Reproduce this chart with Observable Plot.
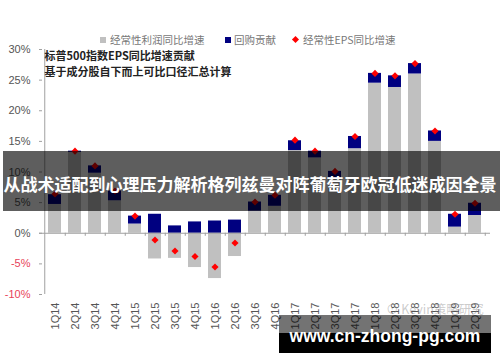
<!DOCTYPE html>
<html>
<head>
<meta charset="utf-8">
<script src="https://cdn.jsdelivr.net/npm/d3@7"></script>
<script src="https://cdn.jsdelivr.net/npm/@observablehq/plot@0.6"></script>
<style>
  html, body { margin: 0; padding: 0; background: #fff; }
  #wrap { position: relative; width: 500px; height: 362px; overflow: hidden; font-family: "Liberation Sans", "Noto Sans CJK SC", sans-serif; }
  #chart { position: absolute; left: 0; top: 0; }
  .leg { position: absolute; top: 33px; font-family: "Noto Sans CJK SC", sans-serif; font-size: 10.5px; color: #777; line-height: 14px; white-space: nowrap; }
  .sw { position: absolute; top: 37px; width: 6px; height: 6px; }
  #banner { position: absolute; left: 3px; top: 151px; width: 497px; height: 60px; background: rgba(0,0,0,0.63); }
  #bannerText { position: absolute; left: 0px; top: 174px; width: 500px; text-align: center; color: #fff; font-family: "Noto Sans CJK SC", sans-serif; font-weight: 700; font-size: 17px; line-height: 20px; white-space: nowrap; }
  #wmGray { position: absolute; left: 279px; top: 315px; width: 212px; height: 18px; background: rgba(0,0,0,0.55); }
  #wmBlack { position: absolute; left: 279px; top: 333px; width: 212px; height: 20px; background: #000; }
  #wmText { position: absolute; left: 279px; top: 326px; width: 212px; text-align: center; color: #fff; font-family: "Liberation Sans", sans-serif; font-weight: 700; font-size: 17.5px; line-height: 20px; white-space: nowrap; }
  #kevin { position: absolute; left: 386px; top: 302px; color: rgba(140,140,140,0.45); font-family: "Noto Sans CJK SC", sans-serif; font-size: 12.5px; line-height: 14px; white-space: nowrap; }
</style>
</head>
<body>
<div id="wrap">
  <div id="chart"></div>
  <div class="sw" style="left:100px;background:#c0c0c0"></div>
  <div class="leg" style="left:110px">经常性利润同比增速</div>
  <div class="sw" style="left:225px;background:#000080"></div>
  <div class="leg" style="left:234px">回购贡献</div>
  <div class="sw" style="left:293px;top:37px;width:5px;height:5px;background:#f00;transform:rotate(45deg)"></div>
  <div class="leg" style="left:303px">经常性EPS同比增速</div>
  <div id="kevin">⊙ Kevin策略研究</div>
  <div id="banner"></div>
  <div id="bannerText">从战术适配到心理压力解析格列兹曼对阵葡萄牙欧冠低迷成因全景</div>
  <div id="wmGray"></div>
  <div id="wmBlack"></div>
  <div id="wmText">www.cn-zhong-pg.com</div>
</div>
<script>
const quarters = ["1Q14","2Q14","3Q14","4Q14","1Q15","2Q15","3Q15","4Q15","1Q16","2Q16","3Q16","4Q16","1Q17","2Q17","3Q17","4Q17","1Q18","2Q18","3Q18","4Q18","1Q19","2Q19"];
const profitGrowth = [4.7, 13.2, 9.8, 5.3, 1.5, -4.2, -4.1, -5.6, -7.4, -3.8, 3.6, 4.4, 13.5, 12.3, 8.9, 13.8, 24.5, 23.8, 26.0, 15.0, 1.0, 2.9];
const buybackContribution = [1.6, 0.2, 1.2, 1.6, 1.3, 3.1, 1.2, 1.85, 2.0, 2.15, 1.5, 1.8, 1.6, 1.1, 1.2, 2.0, 1.6, 1.9, 1.7, 1.7, 2.1, 2.0];
const epsGrowth = [6.4, 13.4, 11.0, 6.9, 2.8, -1.1, -2.9, -3.8, -5.5, -1.6, 5.1, 6.2, 15.2, 13.4, 10.1, 15.8, 26.1, 25.7, 27.7, 16.7, 3.1, 4.9];
const yTicks = [-10, -5, 0, 5, 10, 15, 20, 25, 30];
const noteLines = ["标普500指数EPS同比增速贡献", "基于成分股自下而上可比口径汇总计算"];

const rows = quarters.map((q, i) => ({
  q,
  profit: profitGrowth[i],
  buyback: buybackContribution[i],
  eps: epsGrowth[i]
}));

const W = 500, H = 362, mL = 39, mR = 10, mT = 49, mB = 68;
const step = (W - mL - mR) / quarters.length;

const chart = Plot.plot({
  width: W,
  height: H,
  marginTop: mT,
  marginBottom: mB,
  marginLeft: mL,
  marginRight: mR,
  style: { fontFamily: "Liberation Sans, sans-serif", fontSize: "11px", background: "transparent" },
  x: { domain: quarters, paddingInner: 0.37, paddingOuter: 0.185, label: null },
  y: { domain: [-10, 30], label: null },
  marks: [
    Plot.barY(rows, { x: "q", y1: 0, y2: "profit", fill: "#c0c0c0" }),
    Plot.barY(rows, {
      x: "q",
      y1: d => d.profit >= 0 ? d.profit : 0,
      y2: d => d.profit >= 0 ? d.profit + d.buyback : d.buyback,
      fill: "#000080"
    }),
    Plot.ruleY([0], { stroke: "#a0a0a0" }),
    Plot.ruleX(quarters, { x: d => d, dx: step / 2, y1: 0, y2: -0.5, stroke: "#a0a0a0" }),
    Plot.dot(rows, { x: "q", y: "eps", symbol: "diamond2", r: 3.2, fill: "#ff0000" }),
    Plot.axisY(yTicks.filter(t => t >= 0), { tickFormat: d => d + "%", tickSize: -3, tickPadding: 12, fill: "#555", stroke: "#a0a0a0", fontSize: 11, label: null }),
    Plot.axisY(yTicks.filter(t => t < 0), { tickFormat: d => d + "%", tickSize: -3, tickPadding: 12, fill: "#e8435a", stroke: "#a0a0a0", fontSize: 11, label: null }),
    Plot.ruleX([quarters[0]], { x: d => d, dx: -step / 2, y1: -10, y2: 30, stroke: "#a0a0a0" }),
    Plot.axisX({ anchor: "bottom", tickSize: 0, tickRotate: -90, tickPadding: 8, fill: "#555", fontSize: 11, label: null }),
    Plot.text([noteLines[0]], { frameAnchor: "top-left", dx: 5, dy: 7, text: d => d, textAnchor: "start", lineAnchor: "middle", fontSize: 11, fontWeight: "bold", fill: "#222", fontFamily: "Noto Sans CJK SC" }),
    Plot.text([noteLines[1]], { frameAnchor: "top-left", dx: 5, dy: 23, text: d => d, textAnchor: "start", lineAnchor: "middle", fontSize: 11, fontWeight: "bold", fill: "#222", fontFamily: "Noto Sans CJK SC" })
  ]
});
document.getElementById("chart").appendChild(chart);
</script>
</body>
</html>
